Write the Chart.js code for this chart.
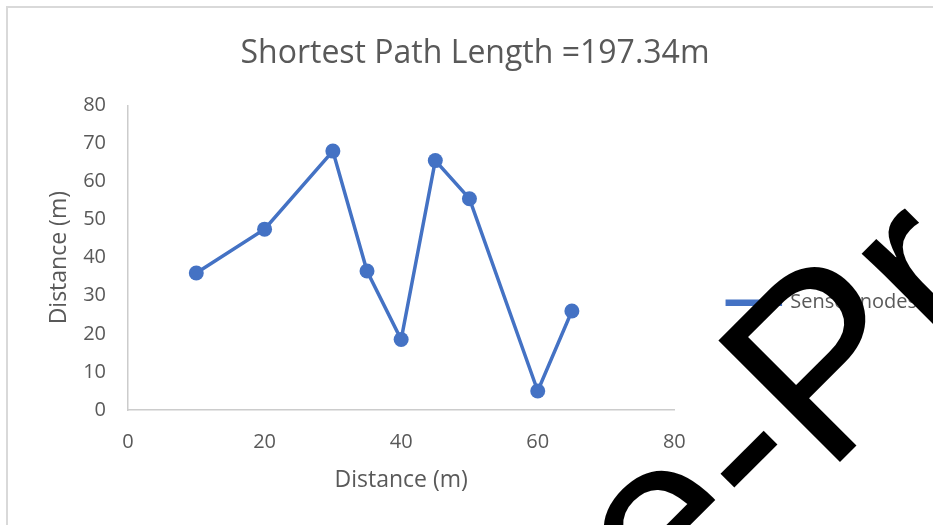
<!DOCTYPE html>
<html lang="en">
<head>
<meta charset="UTF-8">
<title>Shortest Path Length</title>
<script src="https://cdn.jsdelivr.net/npm/chart.js@4"></script>
<style>
    html, body { margin: 0; padding: 0; background: #fff; overflow: hidden; }
    #wrap { position: relative; width: 933px; height: 525px; overflow: hidden; }
    #frame { position: absolute; left: 6px; top: 6px; width: 1000px; height: 600px; border: 2px solid #d9d9d9; }
    canvas { position: absolute; left: 0; top: 0; }
</style>
</head>
<body>
<div id="wrap">
    <div id="frame"></div>
    <canvas id="chart" width="933" height="525"></canvas>
</div>
<script>
    // Sensor node positions
    const xValues = [10, 20, 30, 35, 40, 45, 50, 60, 65];
    const yValues = [36, 47.5, 68, 36.5, 18.5, 65.5, 55.5, 5, 26];
    const seriesName = 'Sensor nodes';
    const chartTitle = 'Shortest Path Length =197.34m';
    const xAxisTitle = 'Distance (m)';
    const yAxisTitle = 'Distance (m)';
    const watermarkText = 'Pre-Proof';

    const textColor = '#595959';
    const axisColor = '#cccccc';
    const blue = '#4472C4';
    const font = 'Open Sans';

    const points = xValues.map((x, i) => ({ x: x, y: yValues[i] }));

    // big diagonal stamp over the chart, anchored on the foot of the second "P"
    const watermark = {
        id: 'watermark',
        afterDraw(chart) {
            const c = chart.ctx;
            const size = 250;
            c.save();
            c.font = size + 'px "Liberation Sans", Arial, sans-serif';
            const lead = c.measureText(watermarkText.slice(0, 4)).width + 0.077 * size;
            c.translate(839 - lead * Math.SQRT1_2, 463 + lead * Math.SQRT1_2);
            c.rotate(-Math.PI / 4);
            c.fillStyle = '#000';
            c.textAlign = 'left';
            c.textBaseline = 'alphabetic';
            c.fillText(watermarkText, 0, 0);
            c.restore();
        }
    };

    const ctx = document.getElementById('chart').getContext('2d');
    new Chart(ctx, {
        type: 'scatter',
        data: {
            datasets: [{
                label: seriesName,
                data: points,
                showLine: true,
                borderColor: blue,
                backgroundColor: blue,
                borderWidth: 3.5,
                pointRadius: 7.5,
                pointHoverRadius: 7.5,
                pointBorderWidth: 0
            }]
        },
        options: {
            responsive: false,
            animation: false,
            layout: { padding: { top: 12, left: 23, right: 6, bottom: 30 } },
            plugins: {
                tooltip: { enabled: false },
                title: {
                    display: true,
                    text: chartTitle,
                    color: textColor,
                    font: { family: font, size: 32, weight: 'normal' },
                    padding: { top: 23, bottom: 32 }
                },
                legend: {
                    position: 'right',
                    maxWidth: 400, // don't let the layout squeeze the label
                    labels: {
                        boxWidth: 53,
                        boxHeight: 3,
                        padding: 53,
                        color: textColor,
                        font: { family: font, size: 20 }
                    },
                    title: { display: true, text: '', padding: { top: 84, bottom: 0 } }
                }
            },
            scales: {
                x: {
                    type: 'linear',
                    min: 0, max: 80,
                    ticks: { stepSize: 20, padding: 20, color: textColor, font: { family: font, size: 20 } },
                    grid: { display: false, drawTicks: false },
                    border: { color: axisColor, width: 1.5 },
                    title: { display: true, text: xAxisTitle, color: textColor, font: { family: font, size: 23 }, padding: { top: 0, bottom: 1 } },
                    afterFit: s => { s.height = 85; }
                },
                y: {
                    min: 0, max: 80,
                    ticks: { stepSize: 10, padding: 22, color: textColor, font: { family: font, size: 20 } },
                    grid: { display: false, drawTicks: false },
                    border: { color: axisColor, width: 1.5 },
                    title: { display: true, text: yAxisTitle, color: textColor, font: { family: font, size: 23 }, padding: { top: 23, bottom: 0 } },
                    afterFit: s => { s.width = 105; }
                }
            }
        },
        plugins: [watermark]
    });
</script>
</body>
</html>
